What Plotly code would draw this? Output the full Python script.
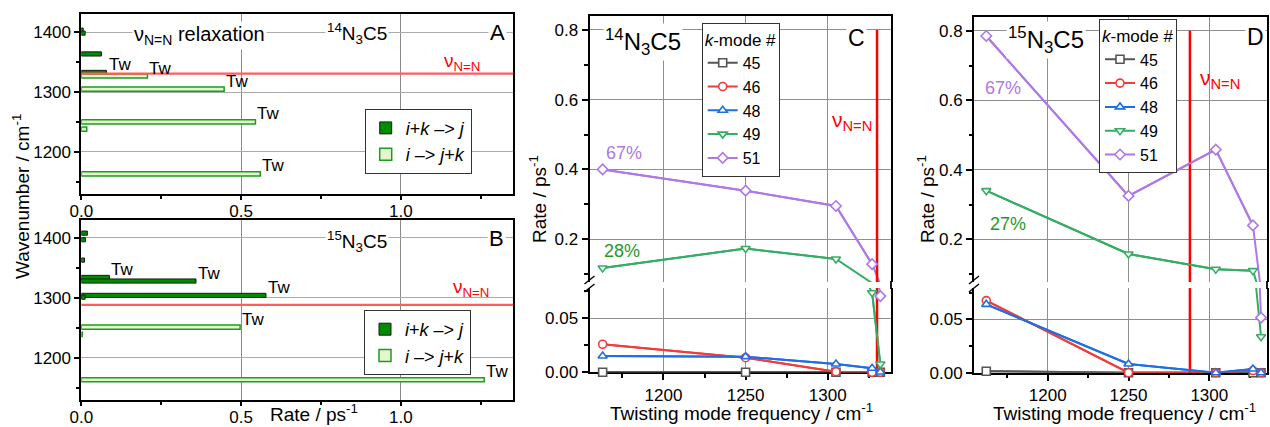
import plotly.graph_objects as go

W, H = 1270, 427
FONT = "Arial, Liberation Sans, sans-serif"

# ---------------- data ----------------
# Panel A (14N3C5): horizontal bars, wavenumber (cm-1) vs rate (ps-1)
A_dark_wn = [1404, 1399, 1364, 1333]
A_dark_rate = [0.006, 0.012, 0.063, 0.079]
A_dark_lab = ["", "", "", "Tw"]
A_light_wn = [1327, 1305, 1250, 1238, 1163]
A_light_rate = [0.207, 0.447, 0.545, 0.017, 0.560]
A_light_lab = ["Tw", "Tw", "Tw", "", "Tw"]
A_nu = 1331

# Panel B (15N3C5)
B_dark_wn = [1408, 1397, 1363, 1334, 1328, 1304, 1301]
B_dark_rate = [0.019, 0.013, 0.010, 0.088, 0.359, 0.578, 0.012]
B_dark_lab = ["", "", "", "Tw", "Tw", "Tw", ""]
B_light_wn = [1251, 1239, 1163]
B_light_rate = [0.497, 0.003, 1.261]
B_light_lab = ["Tw", "", "Tw"]
B_nu = 1288

# Panel C (14N3C5): rate vs twisting mode frequency, per k-mode
C_freq = [1163, 1250, 1305, 1327, 1332]
C_k45 = [0.0, 0.0, 0.0, 0.0, 0.0]
C_k46 = [0.026, 0.0135, 0.0006, 0.0, 0.0]
C_k48 = [0.0151, 0.0145, 0.0077, 0.0037, 0.0003]
C_k49 = [0.117, 0.173, 0.143, 0.0737, 0.0077]
C_k51 = [0.400, 0.339, 0.295, 0.128, 0.0706]
C_nu = 1330

# Panel D (15N3C5)
D_freq = [1162, 1250, 1304, 1327, 1332]
D_k45 = [0.0013, 0.0, 0.0, 0.0, 0.0]
D_k46 = [0.0675, 0.0, 0.0, 0.002, 0.0]
D_k48 = [0.064, 0.0082, 0.0, 0.0035, 0.0]
D_k49 = [0.340, 0.158, 0.114, 0.110, 0.0337]
D_k51 = [0.785, 0.325, 0.458, 0.240, 0.0515]
D_nu = 1288

k_names = ["45", "46", "48", "49", "51"]

LEG_DARK = "<i>i</i>+<i>k</i> –> <i>j</i>"
LEG_LIGHT = "<i>i</i> –> <i>j</i>+<i>k</i>"

# ---------------- styles ----------------
DARK_FILL = "#008c00"
DARK_EDGE = "#1c1c1c"
LIGHT_FILL = "#e2f7cc"
LIGHT_EDGE = "#1f9b1f"
NU_LINE = "#ff5c5c"
NU_RED = "#ff0000"
COLORS = ["#555555", "#f23b3b", "#1e6fe6", "#35ad64", "#ae78e6"]
SYMBOLS = ["square", "circle", "triangle-up", "triangle-down", "diamond"]
BAR_W = 7


def dx(a, b):
    return [a / W, b / W]


def dy(top, bottom):
    return [1 - bottom / H, 1 - top / H]


def px(x):
    return x / W


def py(y):
    return 1 - y / H


fig = go.Figure()
annotations = []
shapes = []


# ---------- panels A & B: bars ----------
def add_bars(wn, rate, name, fill, edge, ew, xa, ya, leg):
    fig.add_trace(go.Bar(
        x=rate, y=wn, orientation="h", width=BAR_W, base=0,
        marker=dict(color=fill, line=dict(color=edge, width=ew)),
        name=name, xaxis=xa, yaxis=ya, legend=leg, hoverinfo="skip"))


def add_tw(wn, rate, lab, xa, ya):
    for w, r, t in zip(wn, rate, lab):
        if t:
            annotations.append(dict(
                x=r, y=w, xref=xa, yref=ya, text=t, showarrow=False,
                xanchor="left", yanchor="middle", yshift=8, xshift=0,
                font=dict(size=17, color="black", family=FONT)))


add_bars(A_dark_wn, A_dark_rate, LEG_DARK, DARK_FILL, DARK_EDGE, 1, "x", "y", "legend")
add_bars(A_light_wn, A_light_rate, LEG_LIGHT, LIGHT_FILL, LIGHT_EDGE, 1.5, "x", "y", "legend")
add_bars(B_dark_wn, B_dark_rate, LEG_DARK, DARK_FILL, DARK_EDGE, 1, "x2", "y2", "legend2")
add_bars(B_light_wn, B_light_rate, LEG_LIGHT, LIGHT_FILL, LIGHT_EDGE, 1.5, "x2", "y2", "legend2")
add_tw(A_dark_wn, A_dark_rate, A_dark_lab, "x", "y")
add_tw(A_light_wn, A_light_rate, A_light_lab, "x", "y")
add_tw(B_dark_wn, B_dark_rate, B_dark_lab, "x2", "y2")
add_tw(B_light_wn, B_light_rate, B_light_lab, "x2", "y2")

for nu, ya in ((A_nu, "y"), (B_nu, "y2")):
    shapes.append(dict(type="line", xref=("x domain" if ya == "y" else "x2 domain"), yref=ya,
                       x0=0, x1=1, y0=nu, y1=nu, line=dict(color=NU_LINE, width=2.2)))


# ---------- panels C & D: broken-axis line charts ----------
def add_panel(freq, series, nu, up, lo, thr, leg):
    # connecting lines, drawn in both segments (clipped by each subplot)
    for vals, col in zip(series, COLORS):
        for xa, ya in (up, lo):
            fig.add_trace(go.Scatter(x=freq, y=vals, mode="lines",
                                     line=dict(color=col, width=2),
                                     xaxis=xa, yaxis=ya, showlegend=False, hoverinfo="skip"))
    # nu N=N vertical line
    for xa, ya in (up, lo):
        fig.add_trace(go.Scatter(x=[nu, nu], y=[0, 0.8], mode="lines",
                                 line=dict(color=NU_RED, width=2.5),
                                 xaxis=xa, yaxis=ya, showlegend=False, hoverinfo="skip"))
    # markers per segment
    for vals, col, sym, name in zip(series, COLORS, SYMBOLS, k_names):
        shown = False
        for (xa, ya), is_up in ((up, True), (lo, False)):
            idx = [i for i, v in enumerate(vals) if (v >= thr) == is_up]
            if not idx:
                continue
            fig.add_trace(go.Scatter(
                x=[freq[i] for i in idx], y=[vals[i] for i in idx],
                mode="lines+markers", name=name,
                line=dict(color=col, width=2),
                marker=dict(symbol=sym, size=8, color="white",
                            line=dict(color=col, width=1.6)),
                xaxis=xa, yaxis=ya, legend=leg,
                showlegend=not shown, cliponaxis=False, hoverinfo="skip"))
            shown = True


add_panel(C_freq, [C_k45, C_k46, C_k48, C_k49, C_k51], C_nu, ("x3", "y3"), ("x4", "y4"), 0.078, "legend3")
add_panel(D_freq, [D_k45, D_k46, D_k48, D_k49, D_k51], D_nu, ("x5", "y5"), ("x6", "y6"), 0.078, "legend4")


# ---------- axes ----------
def ax(**kw):
    d = dict(showline=True, linecolor="black", linewidth=1.8, ticks="outside", ticklen=6,
             tickwidth=1.5, tickcolor="black", automargin=False,
             tickfont=dict(size=17, color="black", family=FONT),
             zeroline=False, showgrid=True, gridwidth=1.3, gridcolor="#8f8f8f")
    d.update(kw)
    return d


MINOR = lambda dt: dict(dtick=dt, ticks="outside", ticklen=3.5, tickwidth=1.5,
                        tickcolor="black", showgrid=False)

xA = dict(range=[0, 1.352], dtick=0.5, tick0=0, tickformat=".1f", mirror=True,
          minor=MINOR(0.25), gridcolor="#8a8a8a", ticklen=5, ticklabelstandoff=-4)
yA = dict(range=[1130, 1431], dtick=100, tick0=1200, mirror=True, minor=MINOR(50),
          gridcolor="#ababab", ticklen=5)

xC = dict(range=[1155, 1338.5], dtick=50, tick0=1200)
xD = dict(range=[1154.4, 1335.7], dtick=50, tick0=1200)

fig.update_layout(
    xaxis=ax(domain=dx(81.3, 513.3), anchor="y", **xA),
    yaxis=ax(domain=dy(14, 193.5), anchor="x", **yA),
    xaxis2=ax(domain=dx(81.3, 513.3), anchor="y2", **xA),
    yaxis2=ax(domain=dy(220, 399.5), anchor="x2", **dict(yA, range=[1130, 1430])),
    # C upper / lower
    xaxis3=ax(domain=dx(589.5, 891), anchor="y3", side="top", ticks="", showticklabels=False, **xC),
    yaxis3=ax(domain=dy(15.7, 282), anchor="x3", range=[0.0769, 0.841], dtick=0.2, tick0=0,
              tickformat=".1f", mirror=True, minor=MINOR(0.1)),
    xaxis4=ax(domain=dx(589.5, 891), anchor="y4", layer="below traces", minor=MINOR(25), **xC),
    yaxis4=ax(domain=dy(288, 372.3), anchor="x4", range=[0, 0.0781], dtick=0.05, tick0=0,
              tickformat=".2f", mirror=True, minor=MINOR(0.025)),
    # D upper / lower
    xaxis5=ax(domain=dx(974, 1267), anchor="y5", side="top", ticks="", showticklabels=False, **xD),
    yaxis5=ax(domain=dy(16.5, 282), anchor="x5", range=[0.0773, 0.841], dtick=0.2, tick0=0,
              tickformat=".1f", mirror=True, minor=MINOR(0.1)),
    xaxis6=ax(domain=dx(974, 1267), anchor="y6", layer="below traces", minor=MINOR(25), **xD),
    yaxis6=ax(domain=dy(288, 372.7), anchor="x6", range=[0, 0.0793], dtick=0.05, tick0=0,
              tickformat=".2f", mirror=True, minor=MINOR(0.025)),
)

# ---------- broken-axis decorations ----------
for xl, xr in ((589.5, 891), (974, 1267)):
    for off in (0, 8):
        shapes.append(dict(type="line", xref="paper", yref="paper",
                           x0=px(xl - 5), y0=py(284 + off), x1=px(xl + 5), y1=py(276 + off),
                           line=dict(color="black", width=1.5)))
    shapes.append(dict(type="line", xref="paper", yref="paper",
                       x0=px(xr), y0=py(281), x1=px(xr), y1=py(289),
                       line=dict(color="black", width=1.8)))


# ---------- text ----------
def txt(x, y, text, size, color="black", bg=None, angle=0, xanchor="center", yanchor="middle"):
    d = dict(x=px(x), y=py(y), xref="paper", yref="paper", text=text, showarrow=False,
             xanchor=xanchor, yanchor=yanchor, textangle=angle,
             font=dict(size=size, color=color, family=FONT))
    if bg:
        d["bgcolor"] = bg
    annotations.append(d)


NU = "ν<sub>N=N</sub>"
# A
txt(199, 36, NU + " relaxation", 20, bg="white")
txt(357, 34, "<sup>14</sup>N<sub>3</sub>C5", 19, bg="white")
txt(497, 33, "A", 22, bg="white")
txt(462, 62, NU, 19, color=NU_RED)
# B
txt(357, 242, "<sup>15</sup>N<sub>3</sub>C5", 19, bg="white")
txt(496, 239, "B", 22, bg="white")
txt(471, 288, NU, 19, color=NU_RED)
# C
txt(643, 42, "<sup>14</sup>N<sub>3</sub>C5", 24, bg="white")
txt(856, 38, "C", 23, bg="white")
txt(852, 121, NU, 21, color=NU_RED)
txt(624, 153, "67%", 18, color="#ae78e6")
txt(622, 251, "28%", 18, color="#1f9a1f")
# D
txt(1046, 40, "<sup>15</sup>N<sub>3</sub>C5", 24, bg="white")
txt(1255, 37, "D", 23, bg="white")
txt(1220, 79, NU, 21, color=NU_RED)
txt(1003, 88, "67%", 18, color="#ae78e6")
txt(1008, 224, "27%", 18, color="#1f9a1f")
# axis titles
txt(21, 197, "Wavenumber / cm<sup>-1</sup>", 19, angle=-90)
txt(314, 427, "Rate / ps<sup>-1</sup>", 19, yanchor="bottom")
txt(538, 199, "Rate / ps<sup>-1</sup>", 19, angle=-90)
txt(741, 412, "Twisting mode frequency / cm<sup>-1</sup>", 19)
txt(926, 199, "Rate / ps<sup>-1</sup>", 19, angle=-90)
txt(1124, 412, "Twisting mode frequency / cm<sup>-1</sup>", 19)


def legend(x, y, size, title=None, title_size=None):
    d = dict(x=px(x), y=py(y), xref="paper", yref="paper", xanchor="left", yanchor="top",
             bgcolor="white", bordercolor="#333333", borderwidth=1,
             font=dict(size=size, color="black", family=FONT), tracegroupgap=0)
    if title:
        d["title"] = dict(text=title, font=dict(size=title_size or size, color="black", family=FONT))
    return d


fig.update_layout(
    width=W, height=H, margin=dict(l=0, r=0, t=0, b=0, autoexpand=False),
    paper_bgcolor="white", plot_bgcolor="white", barmode="overlay",
    font=dict(family=FONT, color="black"),
    annotations=annotations, shapes=shapes,
    legend=legend(364.7, 108.7, 18),
    legend2=legend(364, 310, 18),
    legend3=legend(701.7, 22.7, 16, "<i>k</i>-mode #", 17),
    legend4=legend(1099, 19.3, 16, "<i>k</i>-mode #", 17),
)

fig.write_html("out.html")
